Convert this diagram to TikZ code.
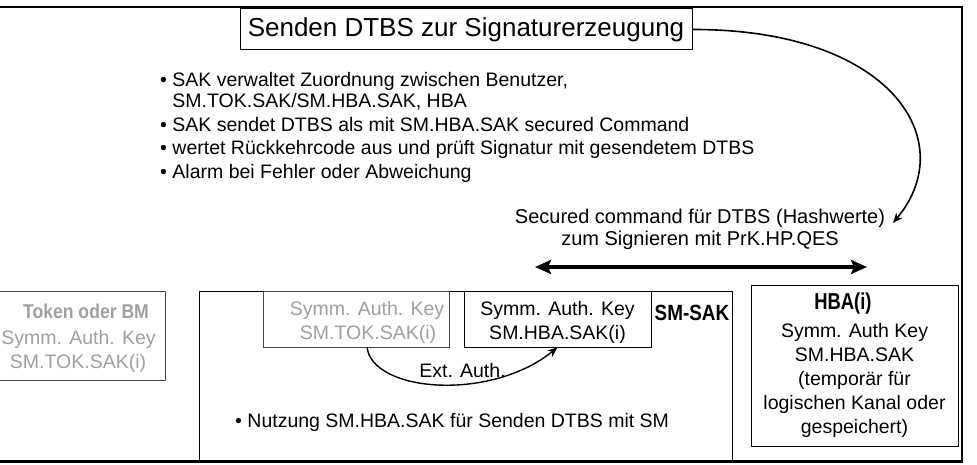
\documentclass[tikz,border=0pt]{standalone}
\usepackage{fontspec}
\setmainfont{Liberation Sans}
\usetikzlibrary{arrows.meta}
\definecolor{gtxt}{RGB}{160,160,160}
\definecolor{gline}{RGB}{70,70,70}
\begin{document}
\begin{tikzpicture}[x=1pt,y=-1pt,
  txt/.style={inner sep=0pt, font=\fontsize{19.5}{24}\selectfont},
  gtx/.style={txt, text=gtxt},
  box/.style={draw, line width=0.8pt, inner sep=0pt},
  conn/.style={line width=1.6pt},
  tip/.style={-{Stealth[length=10pt,width=8pt]}}]
\useasboundingbox (0,0) rectangle (977,465);
\fill[white] (0,0) rectangle (977,465);
% outer frame
\draw[line width=2pt] (-5,7) -- (962,7) -- (962,461.5);
\draw[line width=3pt] (-5,461.5) -- (963,461.5);
% title
\node[box, line width=1pt, minimum width=452pt, minimum height=41pt,
  font=\fontsize{26}{30}\selectfont] (title) at (466,29.5) {Senden DTBS zur Signaturerzeugung};
% bullets
\node[txt, anchor=base west] (b1) at (160,87) {• SAK verwaltet Zuordnung zwischen Benutzer,};
\node[txt, anchor=base west] (b1b) at (160,108) {\phantom{• }SM.TOK.SAK/SM.HBA.SAK, HBA};
\node[txt, anchor=base west] (b2) at (160,132) {• SAK sendet DTBS als mit SM.HBA.SAK secured Command};
\node[txt, anchor=base west] (b3) at (160,155) {• wertet Rückkehrcode aus und prüft Signatur mit gesendetem DTBS};
\node[txt, anchor=base west] (b4) at (160,179) {• Alarm bei Fehler oder Abweichung};
% curve from title
\coordinate (ctip) at (893,223);
\draw[conn, tip] (title.east) .. controls (890,29) and (962,140) .. (ctip);
% secured command text
\node[txt, font=\fontsize{20}{21}\selectfont, anchor=base] (s1) at (700,224) {Secured command für DTBS (Hashwerte)};
\node[txt, font=\fontsize{20}{21}\selectfont, anchor=base] (s2) at (700,245) {zum Signieren mit PrK.HP.QES};
% double arrow
\coordinate (dl) at (535,267);
\coordinate (dr) at (867,267);
\draw[line width=4pt, {Stealth[length=16pt,width=14pt,inset=3pt]}-{Stealth[length=16pt,width=14pt,inset=3pt]}] (dl) -- (dr);
% token box
\node[box, draw=gline, minimum width=170pt, minimum height=89pt] (tok) at (80,335.5) {};
\node[gtx, anchor=base, font=\bfseries\fontsize{20}{24}\selectfont] (tok1) at (86,318) {\scalebox{0.88}[1]{Token oder BM}};
\node[gtx, anchor=base] (tok2) at (78.5,344) {Symm. Auth. Key};
\node[gtx, anchor=base] (tok3) at (78,368) {SM.TOK.SAK(i)};
% SM-SAK box
\node[box, minimum width=533pt, minimum height=169pt] (sak) at (465.5,375.5) {};
\node[box, draw=gline, minimum width=186pt, minimum height=56pt] (gkey) at (356,319) {};
\node[gtx, anchor=base] (gk1) at (367,315) {Symm. Auth. Key};
\node[gtx, anchor=base] (gk2) at (368,339) {SM.TOK.SAK(i)};
\node[box, minimum width=187pt, minimum height=56pt] (hkey) at (557.5,319) {};
\node[txt, anchor=base] (hk1) at (557.5,315) {Symm. Auth. Key};
\node[txt, anchor=base] (hk2) at (557.5,339) {SM.HBA.SAK(i)};
\node[txt, anchor=base, font=\bfseries\fontsize{22}{24}\selectfont] (saklbl) at (692,320) {\scalebox{0.86}[1]{SM-SAK}};
% ext auth
\coordinate (ea1) at (367,347);
\draw[conn, line width=1.4pt, tip] (ea1) .. controls (372,392) and (490,402) .. (hkey.south);
\node[txt, anchor=base] (ext) at (462.5,377) {Ext. Auth.};
\node[txt, anchor=base west] (nutz) at (235,427) {• Nutzung SM.HBA.SAK für Senden DTBS mit SM};
% HBA box
\node[box, minimum width=207pt, minimum height=161pt] (hba) at (854.5,365.5) {};
\node[txt, anchor=base, font=\bfseries\fontsize{23}{24}\selectfont] (h0) at (843,309) {\scalebox{0.8}[1]{HBA(i)}};
\node[txt, anchor=base] (h1) at (854.5,337) {Symm. Auth Key};
\node[txt, anchor=base] (h2) at (854.5,361) {SM.HBA.SAK};
\node[txt, anchor=base] (h3) at (854.5,385) {(temporär für};
\node[txt, anchor=base] (h4) at (854.5,409) {logischen Kanal oder};
\node[txt, anchor=base] (h5) at (854.5,433) {gespeichert)};
\end{tikzpicture}
\end{document}
